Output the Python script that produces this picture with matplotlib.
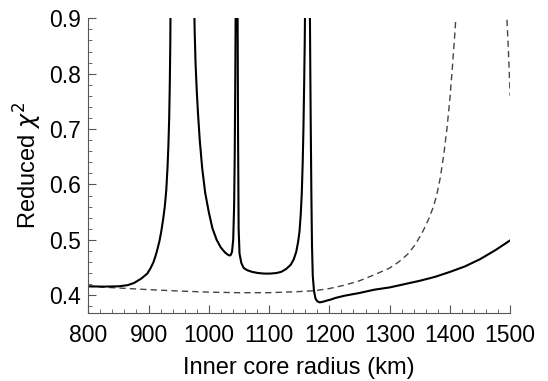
import matplotlib
matplotlib.use('Agg')
import matplotlib.pyplot as plt
from matplotlib.ticker import MultipleLocator

plt.rcParams['font.family'] = ['Liberation Sans', 'DejaVu Sans']
plt.rcParams['mathtext.fontset'] = 'dejavusans'

# solid curve (> 0.9 means the curve leaves the top)
solid_x = [800, 825, 850, 865, 876, 888, 898, 903, 908, 912, 915, 918, 921, 924, 927, 929.5,
           931.5, 933, 934.3, 935.3, 936.1, 936.8,
           975.5, 976.5, 978, 980, 982, 985, 989, 994, 1000, 1006, 1013, 1020, 1027, 1033, 1036,
           1038.5, 1040.5, 1042, 1043, 1044, 1045, 1047.5, 1048.5, 1049.5, 1051, 1054, 1058, 1064,
           1072, 1082, 1092, 1102, 1112, 1120, 1128, 1136, 1141, 1145, 1148, 1150.5, 1152.5,
           1154.3, 1155.8, 1157, 1158.2, 1159.2, 1160,
           1167.5, 1168.3, 1169.2, 1170.2, 1171.2, 1172.5, 1174.5, 1177, 1180, 1184, 1189,
           1195, 1202, 1210, 1225, 1250, 1275, 1300, 1325, 1350, 1375, 1400, 1425, 1450, 1475, 1500]
solid_y = [0.416, 0.4155, 0.416, 0.418, 0.422, 0.430, 0.439, 0.448, 0.459, 0.472, 0.484, 0.497,
           0.514, 0.535, 0.560, 0.590, 0.630, 0.670, 0.720, 0.780, 0.850, 0.950,
           0.950, 0.880, 0.820, 0.770, 0.730, 0.680, 0.630, 0.585, 0.550, 0.521, 0.500, 0.486,
           0.477, 0.472, 0.472, 0.478, 0.500, 0.560, 0.650, 0.800, 1.000, 1.000, 0.700, 0.520,
           0.475, 0.458, 0.449, 0.445, 0.442, 0.440, 0.439, 0.439, 0.440, 0.442, 0.447, 0.455,
           0.465, 0.478, 0.495, 0.515, 0.545, 0.585, 0.640, 0.700, 0.780, 0.860, 0.950,
           0.950, 0.820, 0.700, 0.580, 0.490, 0.435, 0.408, 0.394, 0.389, 0.387, 0.388,
           0.390, 0.392, 0.395, 0.399, 0.404, 0.410, 0.414, 0.420, 0.426, 0.433, 0.442, 0.452,
           0.465, 0.481, 0.499]

# dashed curve
dashed_x = [800, 850, 900, 950, 1000, 1050, 1100, 1150, 1175, 1200, 1225, 1250, 1275, 1300, 1315,
            1330, 1343, 1355, 1365, 1372, 1378, 1384, 1390, 1395, 1400, 1404, 1408, 1411, 1414,
            1490, 1494.5, 1497, 1500]
dashed_y = [0.416, 0.413, 0.410, 0.4075, 0.4055, 0.4045, 0.4045, 0.4065, 0.408, 0.412, 0.418,
            0.426, 0.437, 0.449, 0.460, 0.474, 0.492, 0.515, 0.538, 0.558, 0.580, 0.612, 0.655,
            0.700, 0.755, 0.810, 0.870, 0.920, 1.000, 1.000, 0.900, 0.843, 0.760]

fig = plt.figure(figsize=(5.48, 3.81), dpi=100)
ax = fig.add_axes([0.161, 0.178, 0.770, 0.774])

ax.plot(dashed_x, dashed_y, color='#444444', lw=1.0, dashes=(4.5, 3))
ax.plot(solid_x, solid_y, color='black', lw=1.5)

ax.set_xlim(800, 1500)
ax.set_ylim(0.3675, 0.9)
ax.xaxis.set_major_locator(MultipleLocator(100))
ax.xaxis.set_minor_locator(MultipleLocator(20))
ax.yaxis.set_major_locator(MultipleLocator(0.1))
ax.yaxis.set_minor_locator(MultipleLocator(0.02))
ax.spines['top'].set_visible(False)
ax.spines['right'].set_visible(False)
ax.spines['left'].set_color('#555555')
ax.spines['bottom'].set_color('#555555')
ax.tick_params(which='both', direction='in', colors='#555555', labelcolor='black', labelsize=16.5)
ax.tick_params(which='major', length=6, width=0.8)
ax.tick_params(which='minor', length=3, width=0.6)
ax.tick_params(axis='x', pad=8)
ax.tick_params(axis='y', pad=5)

ax.set_xlabel('Inner core radius (km)', fontsize=17, labelpad=7)
ax.set_ylabel(r'Reduced $\chi^2$', fontsize=17, labelpad=4)

plt.savefig('out.png', dpi=100)
